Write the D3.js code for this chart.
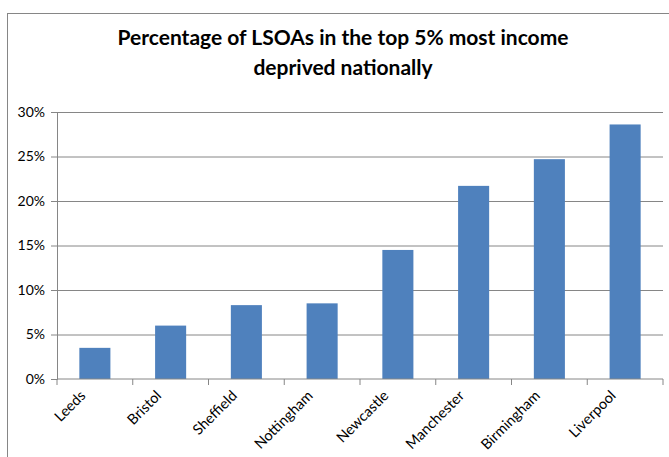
<html>
<head>
  <script src="https://d3js.org/d3.v7.min.js"></script>
  <style>
    body { margin: 0; background: white; }
    text { font-family: Lato, "Open Sans", sans-serif; }
  </style>
</head>
<body>
  <svg id="chart" width="669" height="457"></svg>
  <script>
    const cities = ["Leeds", "Bristol", "Sheffield", "Nottingham", "Newcastle", "Manchester", "Birmingham", "Liverpool"];
    const shares = [3.5, 6.0, 8.3, 8.5, 14.5, 21.7, 24.7, 28.6];
    const yTicks = [0, 5, 10, 15, 20, 25, 30];
    const titleLines = ["Percentage of LSOAs in the top 5% most income", "deprived nationally"];

    const svg = d3.select("svg#chart");
    const margin = { top: 112, left: 57, right: 6, bottom: 78 };
    const width = +svg.attr("width");
    const height = +svg.attr("height");

    // outer chart frame, runs off the right and bottom of the picture
    svg.append("rect")
      .attr("x", 7.5).attr("y", 13.5)
      .attr("width", 700).attr("height", 500)
      .attr("fill", "white").attr("stroke", "#868686");

    svg.selectAll("text.title").data(titleLines).join("text")
      .attr("class", "title")
      .attr("x", 343)
      .attr("y", (d, i) => 45 + i * 30)
      .attr("text-anchor", "middle")
      .attr("font-size", 21)
      .attr("font-weight", "bold")
      .attr("fill", "#000")
      .text(d => d);

    const x = d3.scaleBand().domain(cities)
      .range([margin.left, width - margin.right])
      .paddingInner(0.59).paddingOuter(0.295);
    const y = d3.scaleLinear().domain([0, 30])
      .range([height - margin.bottom, margin.top]);

    // gridlines
    svg.append("g")
      .attr("class", "gridlines")
      .attr("transform", `translate(${margin.left},0)`)
      .call(d3.axisLeft(y).tickValues(yTicks.slice(1)).tickSize(-(width - margin.right - margin.left)).tickFormat(""))
      .call(g => g.select(".domain").remove())
      .call(g => g.selectAll("line").attr("stroke", "#868686"));

    svg.append("g")
      .selectAll("rect").data(cities).join("rect")
      .attr("x", d => x(d))
      .attr("width", x.bandwidth())
      .attr("y", (d, i) => y(shares[i]))
      .attr("height", (d, i) => y(0) - y(shares[i]))
      .attr("fill", "#4F81BD");

    // y axis
    svg.append("g")
      .attr("transform", `translate(${margin.left},0)`)
      .call(d3.axisLeft(y).tickValues(yTicks).tickSize(6).tickPadding(6).tickFormat(d => d + "%"))
      .call(g => g.selectAll("line, .domain").attr("stroke", "#868686"))
      .call(g => g.selectAll("text").attr("font-size", 14).attr("fill", "#000"));

    // x axis, ticks sit between categories
    const xAxis = svg.append("g")
      .attr("transform", `translate(0,${y(0)})`);
    xAxis.append("line")
      .attr("x1", margin.left).attr("x2", width - margin.right)
      .attr("stroke", "#868686");
    const edges = cities.map(c => x(c) - x.step() * x.paddingOuter()).concat([width - margin.right]);
    xAxis.selectAll("line.tick").data(edges).join("line")
      .attr("class", "tick")
      .attr("x1", d => d).attr("x2", d => d)
      .attr("y1", 0).attr("y2", 6)
      .attr("stroke", "#868686");
    xAxis.selectAll("text").data(cities).join("text")
      .attr("transform", d => `translate(${x(d) + x.bandwidth() / 2 - 12},${14}) rotate(-45)`)
      .attr("text-anchor", "end")
      .attr("dy", "0.35em")
      .attr("font-size", 14.5)
      .attr("fill", "#000")
      .text(d => d);
  </script>
</body>
</html>
